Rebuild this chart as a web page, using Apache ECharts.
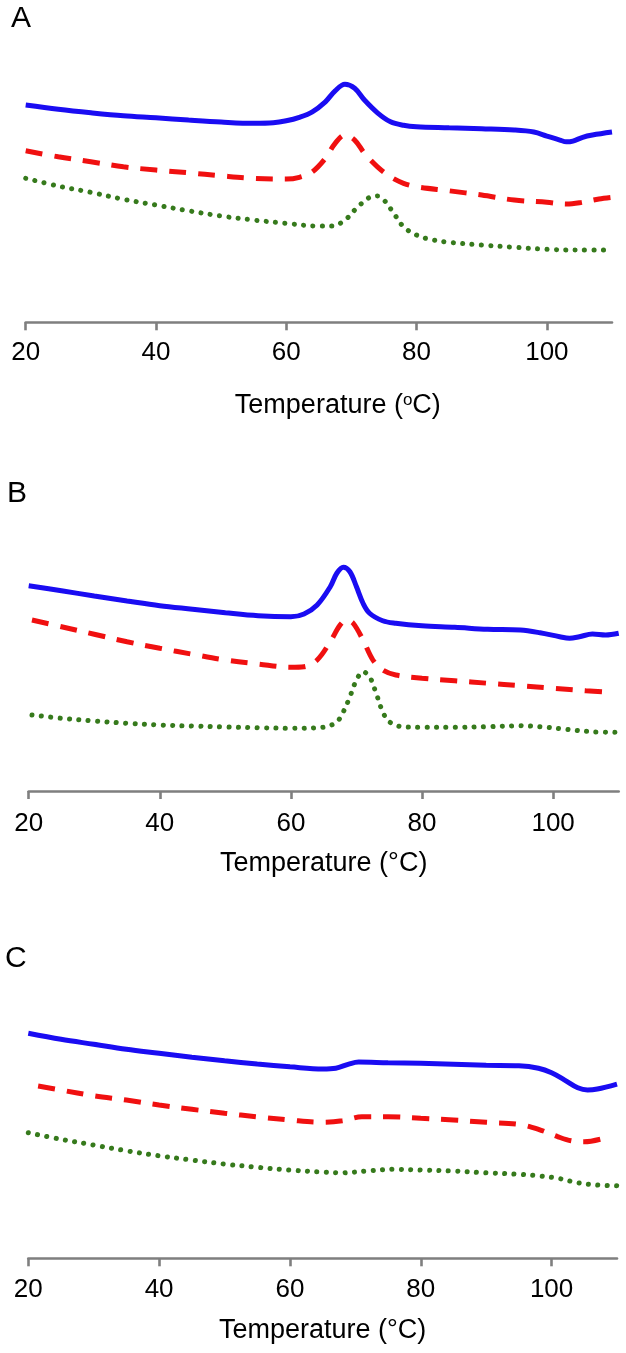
<!DOCTYPE html>
<html>
<head>
<meta charset="utf-8">
<script src="https://cdn.jsdelivr.net/npm/echarts@6/dist/echarts.min.js"></script>
<style>
html,body{margin:0;padding:0;background:#fff;}
#chart{width:626px;height:1353px;}
</style>
</head>
<body>
<div id="chart"></div>
<script>
// ---- Data (temperature in °C, heat flow in arbitrary units) ----
const tickValues = [20, 40, 60, 80, 100];
const panelLabels = ['A', 'B', 'C'];

// Panel A
const tempA_blue  = [20,25,30,35,40,45,50,55,58,60,62,64,66,67.5,69,70.5,72,74,76,78,80,85,90,95,98,100,102,103,104,105.5,107,110];
const blueA       = [86.9,85.2,83.8,82.6,81.8,80.9,80.1,79.6,79.8,80.6,82,84.2,88.2,92.6,95.2,93.6,88.9,83.8,80.2,78.8,78.2,77.8,77.4,76.9,76.1,74.5,72.9,72.2,72.5,74,74.9,76.1];
const tempA_red   = [20,25,30,35,40,45,50,55,60,62,64,66,67.5,69,70.5,72,74,76,78,80,85,90,95,100,103,105,108,110];
const redA        = [68.6,66.2,64.2,62.2,60.9,59.8,58.6,57.6,57.3,58,60.2,65.6,71.6,74.9,72.9,67.6,62.2,58.2,55.6,54.2,52.6,50.9,48.9,48,47.3,47.8,49.3,50];
const tempA_green = [20,25,30,35,40,45,50,55,60,65,67,69,71,73,74,75,76.5,78,80,82,85,90,95,100,105,110];
const greenA      = [57.6,54.5,52,49.2,46.9,44.6,42.5,40.9,39.6,38.5,38.5,40.9,46.2,50.2,50.5,48.9,43.6,38.2,34.9,33.2,32,30.9,30,29.2,28.9,28.9];

// Panel B
const tempB_blue  = [20,25,30,35,40,45,50,55,60,62,64,66,67,68,69,70,71,72,74,76,80,85,90,95,98,101,102.5,104,106,108,110];
const blueB       = [82.1,80.1,78,76,74.1,72.7,71.3,70.1,69.7,70.8,74.4,81.7,87.1,89.5,87.7,81.7,75.1,71.1,68.1,67.1,66.1,65.5,64.7,64.4,63.3,61.7,61.1,61.7,62.8,62.4,63.1];
const tempB_red   = [20.5,25,30,35,40,45,50,55,60,62,64,66,67.5,68.5,69.5,71,72.5,74,76,80,85,90,95,100,105,108];
const redB        = [68.4,65.7,62.7,59.7,57.1,54.7,52.4,50.8,49.5,49.7,52.4,59.7,66.4,68.4,67.1,60.4,52.4,48.4,46.4,45.1,44.1,43.1,42.1,41.1,40.1,39.6];
const tempB_green = [20.5,25,30,35,40,45,50,55,60,65,67,68,69,70,71,72,73,74,75,77,80,85,90,95,98,102,106,110];
const greenB      = [30.4,29.1,28,27.1,26.4,26,25.6,25.3,25.1,25.5,27.7,31.7,37.7,44.4,47.7,45.7,39.1,31.7,27.7,25.7,25.5,25.5,25.7,26.1,25.7,24.7,23.7,23.5];

// Panel C
const tempC_blue  = [20,25,30,35,40,45,50,55,60,65,67,69,70.5,75,80,85,90,95,98,100,102,104,105.5,107,110];
const blueC       = [90,87.6,85.6,83.6,82,80.4,79,77.7,76.6,75.7,76,77.7,78.5,78.2,78,77.6,77.2,77,76,74.2,71.3,68.2,67.3,67.7,69.7];
const tempC_red   = [21.5,25,30,35,40,45,50,55,60,65,68,71,75,80,85,90,95,98,101,103,105,108];
const redC        = [68.9,67.3,65,63.3,61.3,59.6,58,56.6,55.3,54.4,55,56.6,56.6,56,55.3,54.4,53.6,51.6,48.6,47,46.6,48];
const tempC_green = [20,25,30,35,40,45,50,55,60,65,68,72,76,80,85,90,95,98,101,104,107,110];
const greenC      = [50.2,47.6,45.3,43,41,39.3,37.7,36.4,35.3,34.5,34.2,35,35.6,35.3,34.9,34.2,33.6,33,32,30.2,29.3,29];

const axisTitles = ['{n|Temperature (}{s|o}{n|C)}', 'Temperature (°C)', 'Temperature (°C)'];

// ---- Layout / style ----
const FONT = '"Liberation Sans", Arial, Helvetica, sans-serif';
const COLORS = { blue: '#1a0cf2', red: '#f01010', green: '#367a1c' };
const panels = [
  { axisY: 322.3, left: 25.7, right: 14,  labelY: 18.8,  labelX: 11, nameGap: 70,   namePad: [0,0,0,38], labelMargin: 18 },
  { axisY: 791,   left: 28.7, right: 7.3, labelY: 493.3, labelX: 7,  nameGap: 59,   namePad: [0,0,0,0],  labelMargin: 19.5 },
  { axisY: 1258.3,left: 28.3, right: 9,   labelY: 959,   labelX: 5,  nameGap: 58.5, namePad: [0,0,0,0],  labelMargin: 19 }
];
const GRID_H = 250;

function pairs(xs, ys) { return xs.map((x, i) => [x, ys[i]]); }
const seriesData = [
  [pairs(tempA_blue, blueA), pairs(tempA_red, redA), pairs(tempA_green, greenA)],
  [pairs(tempB_blue, blueB), pairs(tempB_red, redB), pairs(tempB_green, greenB)],
  [pairs(tempC_blue, blueC), pairs(tempC_red, redC), pairs(tempC_green, greenC)]
];

const grid = [], xAxis = [], yAxis = [], series = [], graphic = [];
panels.forEach((p, i) => {
  grid.push({ left: p.left, right: p.right, top: p.axisY - GRID_H, height: GRID_H, containLabel: false });
  xAxis.push({
    gridIndex: i, type: 'value', min: 20, max: 110, interval: 20,
    axisLine: { show: true, lineStyle: { color: '#7f7f7f', width: 2.6 } },
    axisTick: { show: true, length: 8, inside: false, customValues: tickValues, lineStyle: { color: '#7f7f7f', width: 2.6 } },
    axisLabel: { show: true, customValues: tickValues, margin: p.labelMargin, color: '#000', fontSize: 26, fontFamily: FONT },
    splitLine: { show: false },
    name: axisTitles[i], nameLocation: 'middle', nameGap: p.nameGap,
    nameTextStyle: {
      color: '#000', fontSize: 27, fontFamily: FONT, padding: p.namePad,
      rich: {
        n: { fontSize: 27, fontFamily: FONT, color: '#000' },
        s: { fontSize: 17, fontFamily: FONT, color: '#000', verticalAlign: 'top', padding: [0,0,8,0] }
      }
    }
  });
  yAxis.push({ gridIndex: i, type: 'value', min: 0, max: 100, show: false, splitLine: { show: false } });
  const d = seriesData[i];
  const common = { type: 'line', xAxisIndex: i, yAxisIndex: i, smooth: 0.35, showSymbol: false, symbol: 'none', silent: true };
  series.push(Object.assign({}, common, { data: d[0], lineStyle: { color: COLORS.blue, width: 5, type: 'solid' } }));
  series.push(Object.assign({}, common, { data: d[1], lineStyle: { color: COLORS.red, width: 5, type: [17, 12], cap: 'butt' } }));
  series.push(Object.assign({}, common, { data: d[2], lineStyle: { color: COLORS.green, width: 5, type: [0.1, 9.3], cap: 'round' } }));
  graphic.push({
    type: 'text', left: p.labelX, top: p.labelY - 15,
    style: { text: panelLabels[i], fontSize: 30, fontFamily: FONT, fill: '#000' }
  });
});

const chart = echarts.init(document.getElementById('chart'), null, { renderer: 'canvas' });
chart.setOption({
  animation: false,
  backgroundColor: '#fff',
  grid, xAxis, yAxis, series, graphic
});
</script>
</body>
</html>
